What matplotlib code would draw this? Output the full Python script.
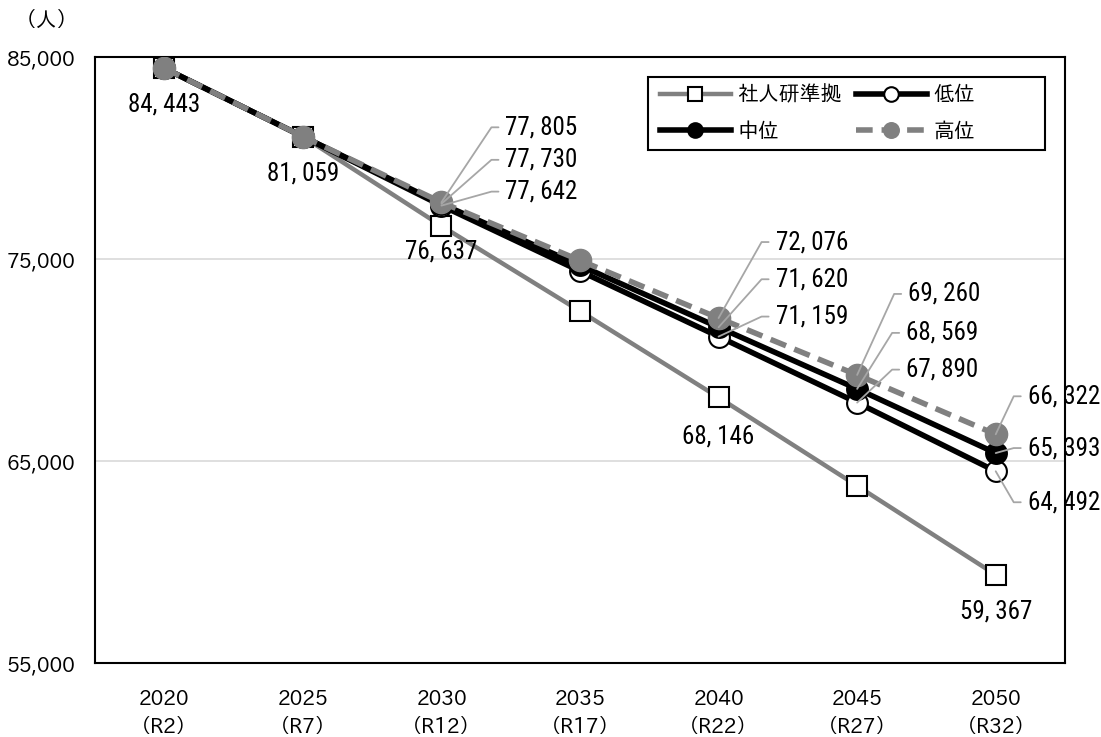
import math
import matplotlib
matplotlib.use("Agg")
import matplotlib.pyplot as plt
from matplotlib.patches import Rectangle

plt.rcParams['font.family'] = ['IPAPGothic', 'Noto Sans CJK JP', 'DejaVu Sans']

years = ["2020\n（R2）", "2025\n（R7）", "2030\n（R12）", "2035\n（R17）",
         "2040\n（R22）", "2045\n（R27）", "2050\n（R32）"]
ipss = [84443, 81059, 76637, 72420, 68146, 63770, 59367]
low = [84443, 81059, 77642, 74400, 71159, 67890, 64492]
mid = [84443, 81059, 77730, 74680, 71620, 68569, 65393]
high = [84443, 81059, 77805, 74930, 72076, 69260, 66322]
series_names = ["社人研準拠", "低位", "中位", "高位"]
yticks = [55000, 65000, 75000, 85000]

GRAY = "#808080"
LEAD = "#a6a6a6"

fig = plt.figure(figsize=(11.01, 7.37), dpi=100)
ax = fig.add_axes([0.0863, 0.1004, 0.881, 0.8223])
x = list(range(len(years)))

ax.plot(x, ipss, color=GRAY, lw=3.2, marker="s", ms=15, mfc="white",
        mec="black", mew=1.5, zorder=3, label=series_names[0])
ax.plot(x, low, color="black", lw=4, marker="o", ms=15, mfc="white",
        mec="black", mew=1.5, zorder=4, label=series_names[1])
ax.plot(x, mid, color="black", lw=4, marker="o", ms=15, mfc="black",
        mec="black", mew=1.5, zorder=5, label=series_names[2])
ax.plot(x, high, color=GRAY, lw=4, ls=(0, (3, 1.6)), marker="o", ms=16,
        mfc=GRAY, mec=GRAY, mew=1, zorder=6, label=series_names[3])

ax.set_xlim(-0.5, len(years) - 0.5)
ax.set_ylim(55000, 85000)
ax.set_yticks(yticks)
ax.set_yticklabels([f"{v:,}" for v in yticks])
ax.set_xticks(x)
ax.set_xticklabels(years, linespacing=1.5)
ax.tick_params(length=0, labelsize=14.5, pad=19)
ax.tick_params(axis="y", pad=14)
ax.grid(axis="y", color="#d9d9d9", lw=1.2, zorder=0)
for s in ax.spines.values():
    s.set_linewidth(1.5)
    s.set_color("black")

fig.text(0.042, 0.972, "（人）", fontsize=15, ha="center", va="center")

lab_font = dict(family=["Roboto Condensed", "DejaVu Sans"], fontsize=18)


def fmt(v):
    return f"{v:,}".replace(",", ", ")


# labels centred below the marker
def below(i, v, dy):
    ax.annotate(fmt(v), (i, v), xytext=(0, dy), textcoords="offset pixels",
                ha="center", va="center", zorder=10, **lab_font)


below(0, ipss[0], -36)
below(1, ipss[1], -37)
below(2, ipss[2], -26)
below(4, ipss[4], -39)
below(6, ipss[6], -37)


# labels to the right with a bent leader line
def leader(i, v, dx, dy, h=14):
    cx, cy = dx - h, dy
    ang = math.degrees(math.atan2(cy, cx))
    ax.annotate(fmt(v), (i, v), xytext=(dx, dy), textcoords="offset pixels",
                ha="left", va="center", zorder=10,
                arrowprops=dict(arrowstyle="-", color=LEAD, lw=1.3,
                                relpos=(0, 0.5), shrinkA=3, shrinkB=0,
                                connectionstyle=f"angle,angleA=0,angleB={ang},rad=0"),
                **lab_font)


leader(2, high[2], 64, 75)
leader(2, mid[2], 64, 44)
leader(2, low[2], 64, 14)
leader(4, high[4], 57, 76)
leader(4, mid[4], 57, 48)
leader(4, low[4], 57, 20)
leader(5, high[5], 51, 81)
leader(5, mid[5], 49, 56)
leader(5, low[5], 49, 33)
leader(6, high[6], 32, 38)
leader(6, mid[6], 32, 5)
leader(6, low[6], 32, -31)

# legend box drawn separately so it can be wider than its entries
ax.add_patch(Rectangle((0.5701, 0.8465), 0.4093, 0.1205, transform=ax.transAxes,
                       facecolor="white", edgecolor="black", lw=1.5, zorder=19))
h = ax.get_legend_handles_labels()[0]
handles = [h[0], h[2], h[1], h[3]]
labels = [series_names[0], series_names[2], series_names[1], series_names[3]]
leg = ax.legend(handles, labels, ncol=2, loc="center left",
                bbox_to_anchor=(0.5825, 0.9068), borderaxespad=0, borderpad=0,
                fontsize=15, handlelength=3.4, columnspacing=0.7,
                handletextpad=0.3, labelspacing=0.8, frameon=False,
                markerscale=0.7)
leg.set_zorder(20)

fig.savefig("out.png", dpi=100)
